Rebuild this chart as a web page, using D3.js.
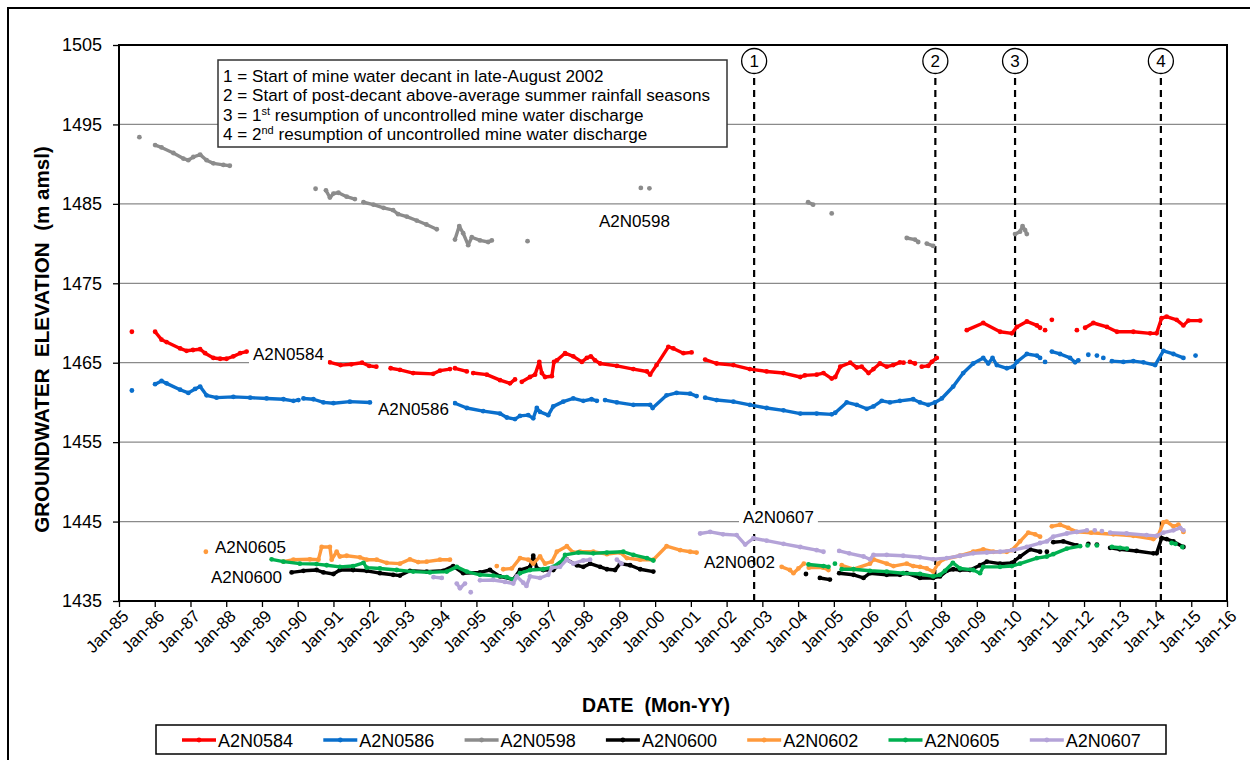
<!DOCTYPE html>
<html>
<head>
<meta charset="utf-8">
<script src="https://cdn.jsdelivr.net/npm/d3@7"></script>
<style>
  html, body { margin: 0; padding: 0; background: #fff; }
  svg { display: block; font-family: Arial, "Liberation Sans", sans-serif; }
</style>
</head>
<body>
<svg id="chart" width="1250" height="760"></svg>
<script>
// ---- data: groundwater elevation (m amsl) against date (decimal year); null marks a gap in the record
const A2N0584 = [
  [1985.36,1468.9], null,
  [1986.01,1468.9],[1986.19,1467.9],[1986.33,1467.6],[1986.71,1466.8],[1986.89,1466.5],[1987.07,1466.6],[1987.27,1466.7],[1987.41,1466.2],[1987.64,1465.6],[1987.83,1465.5],[1988.01,1465.5],[1988.2,1465.8],[1988.39,1466.2],[1988.57,1466.4], null,
  [1990.9,1465.05],[1991.2,1464.7],[1991.5,1464.8],[1991.8,1465.0],[1992.0,1464.6],[1992.2,1464.5], null,
  [1992.6,1464.3],[1992.86,1464.1],[1993.23,1463.7],[1993.79,1463.6],[1993.98,1464.0],[1994.26,1464.2], null,
  [1994.4,1464.3],[1994.73,1463.9], null,
  [1994.91,1463.7],[1995.29,1463.5],[1995.66,1462.8],[1995.94,1462.4],[1996.08,1462.9], null,
  [1996.27,1462.6],[1996.5,1463.2],[1996.64,1463.5],[1996.76,1465.1],[1996.83,1463.7],[1996.92,1463.2],[1997.11,1463.3],[1997.17,1465.1],[1997.25,1465.3],[1997.48,1466.2],[1997.71,1465.8],[1997.95,1465.1],[1998.09,1465.6],[1998.2,1465.8],[1998.32,1465.3],[1998.46,1464.9],[1998.93,1464.6],[1999.39,1464.2],[1999.77,1463.9],[1999.86,1463.5],[2000.04,1464.7],[2000.37,1467.0],[2000.51,1466.8],[2000.79,1466.2],[2001.02,1466.3], null,
  [2001.4,1465.4],[2001.72,1464.9],[2002.19,1464.7],[2002.65,1464.2],[2003.12,1463.9],[2003.59,1463.7],[2004.06,1463.2],[2004.19,1463.4],[2004.52,1463.5],[2004.71,1463.7],[2004.94,1463.0],[2005.04,1463.2],[2005.18,1464.5],[2005.46,1465.0],[2005.64,1464.4],[2005.78,1464.5],[2005.97,1463.7],[2006.11,1464.2],[2006.29,1464.9],[2006.48,1464.5],[2006.66,1464.7],[2006.85,1465.05],[2006.95,1465.0], null,
  [2007.13,1465.1],[2007.27,1464.9], null,
  [2007.46,1464.5],[2007.64,1464.6],[2007.74,1465.1],[2007.88,1465.6], null,
  [2008.72,1469.1],[2009.18,1470.0],[2009.65,1468.9],[2009.98,1468.7],[2010.12,1469.5],[2010.4,1470.2],[2010.68,1469.7],[2010.77,1469.4], null,
  [2010.91,1469.1], null, [2011.1,1470.4], null,
  [2011.8,1469.1], null,
  [2012.03,1469.4],[2012.26,1470.0],[2012.64,1469.5],[2012.92,1468.9],[2013.38,1468.9],[2013.85,1468.7],[2014.03,1468.7],[2014.17,1470.6],[2014.31,1470.8],[2014.59,1470.4],[2014.78,1469.7],[2014.92,1470.3],[2015.25,1470.3]
];

const A2N0586 = [
  [1985.36,1461.5], null,
  [1986.01,1462.3],[1986.19,1462.7],[1986.33,1462.4],[1986.71,1461.6],[1986.94,1461.2],[1987.13,1461.7],[1987.27,1462.0],[1987.45,1460.9],[1987.73,1460.6],[1988.2,1460.7],[1988.67,1460.6],[1989.13,1460.5],[1989.6,1460.4],[1989.88,1460.2],[1990.02,1460.3], null,
  [1990.16,1460.5],[1990.44,1460.4],[1990.72,1460.0],[1991.0,1459.9],[1991.46,1460.1],[1992.02,1460.0], null,
  [1994.4,1459.9],[1994.73,1459.3],[1995.19,1458.9],[1995.66,1458.6],[1995.85,1458.1],[1996.08,1457.9],[1996.22,1458.3],[1996.45,1458.4],[1996.59,1458.0],[1996.69,1459.3],[1996.78,1458.8],[1997.01,1458.4],[1997.15,1459.5],[1997.43,1460.1],[1997.71,1460.5],[1997.99,1460.2],[1998.22,1460.4],[1998.37,1460.2], null,
  [1998.6,1460.3],[1998.93,1460.0],[1999.39,1459.7],[1999.86,1459.7],[1999.93,1459.3],[2000.32,1460.9],[2000.6,1461.2],[2000.98,1461.1],[2001.16,1460.8], null,
  [2001.4,1460.6],[2001.72,1460.3],[2002.19,1460.1],[2002.65,1459.7],[2003.12,1459.3],[2003.59,1459.0],[2004.06,1458.6],[2004.52,1458.6],[2004.94,1458.5],[2005.04,1458.7],[2005.36,1460.0],[2005.64,1459.7],[2005.92,1459.2],[2006.11,1459.5],[2006.34,1460.2],[2006.57,1460.0],[2006.85,1460.2],[2007.22,1460.4],[2007.41,1460.0],[2007.64,1459.7],[2007.83,1460.0],[2008.02,1460.5],[2008.34,1462.0],[2008.62,1463.7],[2008.9,1464.9],[2009.18,1465.6],[2009.32,1464.9],[2009.44,1465.6],[2009.56,1464.7],[2009.84,1464.3],[2010.02,1464.5],[2010.12,1465.1],[2010.4,1466.1],[2010.68,1465.9],[2010.77,1465.6], null,
  [2010.91,1465.1], null,
  [2011.1,1466.4],[2011.33,1466.1],[2011.61,1465.6],[2011.75,1465.05],[2011.84,1465.3], null,
  [2012.12,1466.0], null, [2012.36,1465.9], null, [2012.54,1465.6], null,
  [2012.78,1465.2],[2013.1,1465.1],[2013.38,1465.2],[2013.66,1465.05],[2013.99,1464.7],[2014.22,1466.5],[2014.5,1466.1],[2014.78,1465.6], null,
  [2015.12,1465.9]
];

const A2N0598 = [
  [1985.57,1493.4], null,
  [1986.01,1492.4],[1986.19,1492.1],[1986.52,1491.4],[1986.8,1490.7],[1986.94,1490.5],[1987.08,1490.9],[1987.27,1491.2],[1987.45,1490.5],[1987.64,1490.1],[1987.92,1489.9],[1988.1,1489.8], null,
  [1990.5,1486.9], null,
  [1990.79,1486.7],[1990.9,1485.8],[1991.0,1486.3],[1991.14,1486.4],[1991.37,1485.9],[1991.6,1485.6], null,
  [1991.84,1485.2],[1992.12,1484.9],[1992.4,1484.5],[1992.67,1484.2],[1992.81,1483.7],[1993.05,1483.4],[1993.33,1482.9],[1993.6,1482.4],[1993.89,1481.8], null,
  [1994.4,1480.5],[1994.52,1482.2],[1994.63,1481.3],[1994.77,1479.8],[1994.87,1480.8],[1995.1,1480.4],[1995.33,1480.2],[1995.43,1480.4], null,
  [1996.43,1480.3], null,
  [1999.6,1487.0], null, [1999.84,1486.95], null,
  [2004.28,1485.2],[2004.42,1484.9], null,
  [2004.94,1483.8], null,
  [2007.04,1480.7],[2007.27,1480.5],[2007.36,1480.2], null,
  [2007.6,1480.0],[2007.78,1479.7], null,
  [2010.07,1481.2],[2010.21,1481.5],[2010.28,1482.2],[2010.35,1481.7],[2010.4,1481.2]
];

const A2N0600 = [
  [1989.83,1438.6],[1990.16,1438.8],[1990.53,1438.9],[1990.72,1438.6],[1991.0,1438.4],[1991.18,1438.9],[1991.55,1438.9],[1991.93,1438.8],[1992.3,1438.5],[1992.67,1438.3],[1992.86,1438.2],[1993.14,1438.8],[1993.61,1438.7],[1994.07,1438.8],[1994.35,1439.4],[1994.63,1438.5],[1995.1,1438.6],[1995.38,1438.9],[1995.66,1438.1],[1996.03,1437.7],[1996.22,1438.9],[1996.5,1439.3],[1996.59,1440.7],[1996.69,1439.1],[1996.87,1438.9],[1997.15,1438.9],[1997.34,1439.7],[1997.53,1440.2],[1997.81,1439.5],[1997.99,1439.3],[1998.18,1439.7],[1998.46,1439.3],[1998.65,1439.0],[1998.88,1438.9],[1999.02,1439.7],[1999.3,1439.5],[1999.58,1439.0],[1999.95,1438.7], null,
  [2004.22,1438.4], null,
  [2004.61,1437.9],[2004.89,1437.7], null,
  [2005.15,1438.5],[2005.55,1438.3],[2005.83,1437.9],[2006.01,1438.5],[2006.48,1438.3],[2006.85,1438.3],[2007.04,1438.5],[2007.41,1437.9],[2007.78,1437.9],[2007.97,1438.1],[2008.16,1438.8],[2008.34,1439.0],[2008.53,1438.9],[2008.81,1438.9],[2009.09,1439.5],[2009.28,1439.95],[2009.65,1439.7],[2009.98,1439.8],[2010.21,1440.6],[2010.49,1441.5],[2010.77,1441.2], null,
  [2010.96,1441.2], null,
  [2011.14,1442.4],[2011.42,1442.5],[2011.8,1442.0], null,
  [2012.12,1442.2], null, [2012.36,1442.1], null,
  [2012.73,1441.7],[2013.0,1441.5],[2013.47,1441.3],[2013.94,1441.0],[2014.03,1441.0],[2014.17,1442.9],[2014.31,1442.8],[2014.5,1442.5],[2014.78,1441.8]
];

const A2N0602 = [
  [1987.43,1441.2], null,
  [1989.6,1439.95],[1989.88,1440.2],[1990.34,1440.25],[1990.58,1440.2],[1990.67,1441.8],[1990.9,1441.8],[1990.95,1440.2],[1991.09,1441.2],[1991.18,1440.6],[1991.37,1440.7],[1991.74,1440.5],[1991.93,1440.2],[1992.21,1440.2],[1992.49,1439.8],[1992.86,1439.7],[1993.14,1440.25],[1993.37,1439.9],[1993.61,1439.95],[1993.98,1440.2],[1994.26,1440.2], null,
  [1995.57,1439.4], null,
  [1995.75,1439.0],[1995.99,1439.1],[1996.22,1440.4],[1996.45,1440.2],[1996.59,1439.7],[1996.78,1440.6],[1996.92,1439.7],[1997.11,1439.95],[1997.25,1441.2],[1997.53,1441.9],[1997.71,1441.1],[1997.9,1441.2],[1998.27,1441.2],[1998.65,1440.9],[1999.02,1441.1],[1999.21,1440.4],[1999.58,1440.2],[1999.95,1440.2],[2000.32,1441.9],[2000.7,1441.4],[2000.98,1441.2],[2001.16,1441.1], null,
  [2003.54,1439.3],[2003.77,1438.9],[2003.87,1438.5],[2004.01,1439.1],[2004.16,1439.7], null,
  [2004.3,1439.2],[2004.7,1439.2],[2004.85,1438.9], null,
  [2005.22,1439.5],[2005.55,1439.0],[2006.01,1439.7],[2006.11,1440.25],[2006.48,1439.7],[2006.67,1439.4],[2007.04,1439.7],[2007.22,1439.4],[2007.41,1439.3],[2007.6,1439.1],[2007.78,1438.7],[2007.92,1439.7],[2008.06,1440.25],[2008.53,1440.7],[2008.9,1441.2],[2009.18,1441.5],[2009.46,1441.2],[2009.84,1441.2],[2009.98,1441.4],[2010.21,1442.5],[2010.44,1443.6],[2010.63,1443.4],[2010.77,1443.1], null,
  [2011.1,1444.4],[2011.33,1444.6],[2011.56,1444.2],[2011.8,1443.7],[2012.2,1443.6],[2012.82,1443.4],[2013.38,1443.2],[2013.94,1442.8],[2014.08,1443.3],[2014.22,1444.9],[2014.31,1445.0],[2014.5,1444.4],[2014.64,1444.6],[2014.78,1443.7]
];

const A2N0605 = [
  [1989.27,1440.25],[1989.6,1439.95],[1990.06,1439.7],[1990.53,1439.65],[1990.81,1439.5],[1991.18,1439.3],[1991.55,1439.4],[1991.84,1439.8],[1991.93,1439.2],[1992.3,1439.1],[1992.77,1438.9],[1993.23,1438.7],[1993.7,1438.6],[1994.17,1438.7],[1994.45,1439.3],[1994.73,1438.7],[1995.1,1438.3],[1995.47,1438.2],[1995.85,1438.0],[1996.03,1437.7],[1996.22,1438.5],[1996.5,1438.9],[1996.87,1439.0],[1997.15,1439.3],[1997.43,1440.2],[1997.48,1440.8],[1997.85,1441.1],[1998.27,1441.0],[1998.65,1441.1],[1999.11,1441.2],[1999.39,1440.8],[1999.77,1440.4],[1999.95,1440.1], null,
  [2004.29,1439.6],[2004.71,1439.4],[2004.85,1439.3], null,
  [2005.03,1439.7], null,
  [2005.22,1439.0],[2005.55,1439.0],[2006.01,1438.8],[2006.48,1438.7],[2006.94,1438.5],[2007.41,1438.4],[2007.78,1438.1],[2007.97,1438.3],[2008.11,1438.8],[2008.33,1439.8],[2008.53,1439.1],[2008.9,1438.9],[2009.09,1438.5],[2009.18,1439.3],[2009.65,1439.3],[2009.98,1439.4],[2010.21,1439.7],[2010.68,1440.4],[2010.96,1440.6],[2011.14,1440.9],[2011.52,1441.6],[2011.89,1441.9], null,
  [2012.1,1442.0], null, [2012.36,1442.0], null,
  [2012.78,1441.8],[2013.01,1441.7],[2013.2,1441.6], null,
  [2014.45,1442.3],[2014.56,1442.2], null,
  [2014.75,1441.8]
];

const A2N0607 = [
  [1993.8,1438.0],[1994.03,1437.9], null,
  [1994.45,1437.2],[1994.54,1436.6],[1994.68,1437.2], null,
  [1994.84,1436.1], null,
  [1995.1,1437.6],[1995.47,1437.65],[1995.8,1437.4],[1996.03,1437.2],[1996.13,1438.1],[1996.31,1437.3],[1996.4,1436.9],[1996.5,1438.1],[1996.78,1437.9],[1997.01,1438.3],[1997.11,1439.2],[1997.34,1439.3],[1997.53,1440.2],[1997.71,1439.7],[1997.99,1440.1],[1998.18,1440.2], null,
  [1998.93,1440.2],[1999.06,1439.7], null,
  [2001.26,1443.5],[2001.54,1443.7],[2001.9,1443.4],[2002.28,1443.3],[2002.52,1442.1],[2002.75,1442.9],[2003.12,1442.6],[2003.59,1442.2],[2004.06,1441.8],[2004.52,1441.4],[2004.71,1441.2], null,
  [2005.15,1441.3],[2005.43,1441.0],[2005.83,1440.6],[2006.01,1440.25],[2006.11,1440.8],[2006.48,1440.8],[2006.94,1440.7],[2007.41,1440.5],[2007.78,1440.25],[2008.16,1440.4],[2008.53,1440.7],[2008.9,1441.0],[2009.28,1441.1],[2009.65,1441.2],[2010.02,1441.4],[2010.4,1441.8],[2010.77,1442.3],[2010.96,1442.5],[2011.14,1443.1],[2011.52,1443.5],[2011.8,1443.7],[2012.08,1443.9], null,
  [2012.3,1443.9], null, [2012.5,1443.8], null,
  [2012.73,1443.6],[2013.19,1443.5],[2013.75,1443.3],[2014.03,1443.2],[2014.22,1443.6],[2014.5,1443.9],[2014.69,1444.2],[2014.78,1443.9]
];

const seriesNames  = ["A2N0584","A2N0586","A2N0598","A2N0600","A2N0602","A2N0605","A2N0607"];
const seriesData   = [A2N0584, A2N0586, A2N0598, A2N0600, A2N0602, A2N0605, A2N0607];
const seriesColors = ["#ff0000","#0a6fcc","#8c8c8c","#000000","#ff9a3c","#00b050","#b4a3d8"];

// tick values / labels
const yTicks = [1435, 1445, 1455, 1465, 1475, 1485, 1495, 1505];
const xYears = d3.range(1985, 2017);
const xTickLabels = xYears.map(yr => "Jan-" + String(yr % 100).padStart(2, "0"));

// events marked by dashed verticals
const eventDates  = [2002.77, 2007.84, 2010.07, 2014.15];
const eventLabels = ["1", "2", "3", "4"];
const noteLines = [
  ["1 = Start of mine water decant in late-August 2002"],
  ["2 = Start of post-decant above-average summer rainfall seasons"],
  ["3 = 1", "st", " resumption of uncontrolled mine water discharge"],
  ["4 = 2", "nd", " resumption of uncontrolled mine water discharge"]
];

// ---- layout
const svg = d3.select("#chart");
const P = { left: 119, right: 1227, top: 45, bottom: 601 };
const x = d3.scaleLinear().domain([1985, 2016]).range([P.left, P.right]);
const y = d3.scaleLinear().domain([1435, 1505]).range([P.bottom, P.top]);

// outer frame
svg.append("rect").attr("x", 8).attr("y", 8).attr("width", 1260).attr("height", 780)
  .attr("fill", "none").attr("stroke", "#000").attr("stroke-width", 2);

// horizontal gridlines
svg.append("g").selectAll("line").data(yTicks.slice(1, -1)).join("line")
  .attr("x1", P.left).attr("x2", P.right)
  .attr("y1", d => y(d)).attr("y2", d => y(d))
  .attr("stroke", "#8a8a8a").attr("stroke-width", 1.2);

// axes
const yAxis = svg.append("g").attr("transform", `translate(${P.left},0)`)
  .call(d3.axisLeft(y).tickValues(yTicks).tickSize(6).tickPadding(11).tickFormat(d3.format("d")));
const xAxis = svg.append("g").attr("transform", `translate(0,${P.bottom})`)
  .call(d3.axisBottom(x).tickValues(xYears).tickSize(6).tickFormat((d, i) => xTickLabels[i]));
[yAxis, xAxis].forEach(g => {
  g.select(".domain").remove();
  g.selectAll(".tick line").attr("stroke", "#000").attr("stroke-width", 1.3);
});
yAxis.selectAll(".tick text").attr("font-size", 18).attr("fill", "#000")
  .attr("font-family", "Arial, 'Liberation Sans', sans-serif");
xAxis.selectAll(".tick text")
  .attr("font-size", 17).attr("fill", "#000")
  .attr("font-family", "Arial, 'Liberation Sans', sans-serif")
  .attr("text-anchor", "end")
  .attr("dy", "0.35em")
  .attr("transform", "translate(6,12) rotate(-45)")
  .attr("y", 0).attr("x", 0);

// plot frame
svg.append("rect").attr("x", P.left).attr("y", P.top)
  .attr("width", P.right - P.left).attr("height", P.bottom - P.top)
  .attr("fill", "none").attr("stroke", "#000").attr("stroke-width", 2);

// axis titles
svg.append("text").attr("transform", `translate(48.5,339.5) rotate(-90)`)
  .attr("text-anchor", "middle").attr("font-weight", "bold").attr("font-size", 20.6)
  .attr("xml:space", "preserve")
  .text("GROUNDWATER  ELEVATION  (m amsl)");
svg.append("text").attr("x", 656).attr("y", 712)
  .attr("text-anchor", "middle").attr("font-weight", "bold").attr("font-size", 19.5)
  .attr("xml:space", "preserve")
  .text("DATE  (Mon-YY)");

// event markers
const ev = svg.append("g");
eventDates.forEach((d, i) => {
  ev.append("line").attr("x1", x(d)).attr("x2", x(d)).attr("y1", 78).attr("y2", P.bottom)
    .attr("stroke", "#000").attr("stroke-width", 2.2).attr("stroke-dasharray", "7,5");
  ev.append("circle").attr("cx", x(d)).attr("cy", 61).attr("r", 12.5)
    .attr("fill", "#fff").attr("stroke", "#000").attr("stroke-width", 1.3);
  ev.append("text").attr("x", x(d)).attr("y", 67).attr("text-anchor", "middle")
    .attr("font-size", 17).text(eventLabels[i]);
});

// series
const line = d3.line().defined(d => d !== null).x(d => x(d[0])).y(d => y(d[1]));
seriesData.forEach((data, i) => {
  const g = svg.append("g");
  g.append("path").datum(data).attr("d", line)
    .attr("fill", "none").attr("stroke", seriesColors[i]).attr("stroke-width", 3.4)
    .attr("stroke-linejoin", "round").attr("stroke-linecap", "round");
  g.selectAll("circle").data(data.filter(d => d !== null)).join("circle")
    .attr("cx", d => x(d[0])).attr("cy", d => y(d[1])).attr("r", 2.4)
    .attr("fill", seriesColors[i]);
});

// series name labels
const seriesLabels = [
  { name: "A2N0598", x: 599, y: 227, bg: false },
  { name: "A2N0584", x: 253, y: 360, bg: true },
  { name: "A2N0586", x: 378, y: 415, bg: true },
  { name: "A2N0605", x: 215, y: 553, bg: false },
  { name: "A2N0600", x: 211, y: 583, bg: false },
  { name: "A2N0607", x: 743, y: 523, bg: true },
  { name: "A2N0602", x: 704, y: 568, bg: false }
];
seriesLabels.forEach(l => {
  const t = svg.append("text").attr("x", l.x).attr("y", l.y).attr("font-size", 17).text(l.name);
  if (l.bg) {
    const b = t.node().getBBox();
    svg.insert("rect", () => t.node()).attr("x", b.x - 4).attr("y", b.y).attr("width", b.width + 8)
      .attr("height", b.height + 2).attr("fill", "#fff");
  }
});

// notes box
svg.append("rect").attr("x", 218).attr("y", 60).attr("width", 509).attr("height", 87)
  .attr("fill", "#fff").attr("stroke", "#333").attr("stroke-width", 1.5);
noteLines.forEach((parts, i) => {
  const t = svg.append("text").attr("x", 223).attr("y", 81.5 + i * 19.5).attr("font-size", 17.1);
  parts.forEach((p, j) => {
    const s = t.append("tspan").text(p);
    if (j === 1) s.attr("font-size", 11).attr("dy", -6);
    if (j === 2) s.attr("dy", 6);
  });
});

// legend
svg.append("rect").attr("x", 156).attr("y", 725).attr("width", 1010).attr("height", 29)
  .attr("fill", "#fff").attr("stroke", "#000").attr("stroke-width", 1.5);
seriesNames.forEach((n, i) => {
  const lx = 182 + i * 141.3;
  svg.append("line").attr("x1", lx).attr("x2", lx + 34).attr("y1", 740).attr("y2", 740)
    .attr("stroke", seriesColors[i]).attr("stroke-width", 3.5);
  svg.append("circle").attr("cx", lx + 17).attr("cy", 740).attr("r", 2.4).attr("fill", seriesColors[i]);
  svg.append("text").attr("x", lx + 36).attr("y", 746.5).attr("font-size", 18).text(n);
});
</script>
</body>
</html>
